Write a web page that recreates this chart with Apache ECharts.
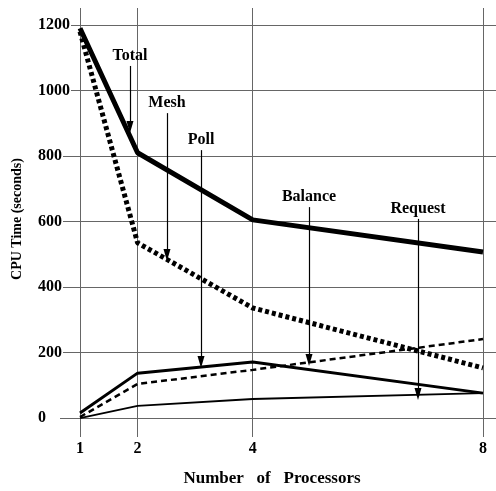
<!DOCTYPE html>
<html>
<head>
<meta charset="utf-8">
<script src="https://cdn.jsdelivr.net/npm/echarts@6/dist/echarts.min.js"></script>
<style>html,body{margin:0;padding:0;background:#fff}#c{width:496px;height:491px}</style>
</head>
<body>
<div id="c"></div>
<script>
// ---- data ----
var processors = [1, 2, 4, 8];
var totalTime   = [1190, 810, 605, 507];
var meshTime    = [1180, 535, 336, 153];
var pollTime    = [15, 137, 171, 76];
var balanceTime = [3, 104, 147, 241];
var requestTime = [0, 37, 58, 76];
var xTicks = [1, 2, 4, 8];
var yTicks = [0, 200, 400, 600, 800, 1000, 1200];
// annotation arrows: name, x, yStart, yEnd (data units)
var arrowNames = ['Total', 'Mesh', 'Poll', 'Balance', 'Request'];
var arrowX     = [1.868, 2.511, 3.102, 4.978, 6.871];
var arrowFrom  = [1075, 931, 818, 644, 608];
var arrowTo    = [889, 498, 171, 177, 73];

var FONT = 'Liberation Serif';
function pairs(ys) { return processors.map(function (p, i) { return [p, ys[i]]; }); }
function plain(v) { return String(v); }

var gridLines = [];
xTicks.forEach(function (v) { gridLines.push({ xAxis: v }); });
yTicks.forEach(function (v) { gridLines.push({ yAxis: v }); });

var arrows = arrowNames.map(function (n, i) {
  return [
    { coord: [arrowX[i], arrowFrom[i]], symbol: 'none',
      label: { show: true, position: 'start', formatter: n, distance: 2,
               fontFamily: FONT, fontWeight: 'bold', fontSize: 16, color: '#000' } },
    { coord: [arrowX[i], arrowTo[i]], symbol: 'path://M5,0 L10,14 L0,14 Z', symbolSize: [7, 12] }
  ];
});

var chart = echarts.init(document.getElementById('c'), null, { renderer: 'canvas' });
chart.setOption({
  animation: false,
  backgroundColor: '#fff',
  grid: { left: 60, right: 0, top: 8, bottom: 54, containLabel: false },
  xAxis: {
    type: 'value', min: 0.6526, max: 8.2258,
    axisLine: { show: false }, axisTick: { show: false }, splitLine: { show: false },
    axisLabel: { customValues: xTicks, formatter: plain, margin: 4, fontFamily: FONT, fontWeight: 'bold', fontSize: 16, color: '#000' }
  },
  yAxis: {
    type: 'value', min: -58, max: 1252, z: 10,
    axisLine: { show: false }, axisTick: { show: false }, splitLine: { show: false },
    axisLabel: { customValues: yTicks, formatter: plain, margin: 22, align: 'left', fontFamily: FONT, fontWeight: 'bold',
                 fontSize: 16, color: '#000', backgroundColor: '#fff', padding: [0, 1, 0, 0] }
  },
  graphic: [
    { type: 'text', x: 272, y: 479, style: { text: 'Number   of   Processors', textAlign: 'center', textVerticalAlign: 'middle',
      font: 'bold 17px "Liberation Serif"', fill: '#000' } },
    { type: 'text', x: 17, y: 219, rotation: Math.PI / 2, style: { text: 'CPU Time (seconds)', textAlign: 'center', textVerticalAlign: 'middle',
      font: 'bold 14px "Liberation Serif"', fill: '#000' } }
  ],
  series: [
    { name: 'Total', type: 'line', data: pairs(totalTime), symbol: 'none', z: 3,
      lineStyle: { color: '#000', width: 5 },
      markLine: { z: 1, silent: true, symbol: 'none', label: { show: false },
        lineStyle: { color: '#666', width: 1, type: 'solid' }, data: gridLines } },
    { name: 'Mesh', type: 'line', data: pairs(meshTime), symbol: 'none', z: 3,
      lineStyle: { color: '#000', width: 5, type: [4, 3] } },
    { name: 'Poll', type: 'line', data: pairs(pollTime), symbol: 'none', z: 3,
      lineStyle: { color: '#000', width: 3 } },
    { name: 'Balance', type: 'line', data: pairs(balanceTime), symbol: 'none', z: 3,
      lineStyle: { color: '#000', width: 2.5, type: [6, 4] } },
    { name: 'Request', type: 'line', data: pairs(requestTime), symbol: 'none', z: 3,
      lineStyle: { color: '#000', width: 1.8 },
      markLine: { z: 4, silent: true, lineStyle: { color: '#000', width: 1.2, type: 'solid' },
        itemStyle: { color: '#000' }, data: arrows } }
  ]
});
</script>
</body>
</html>
